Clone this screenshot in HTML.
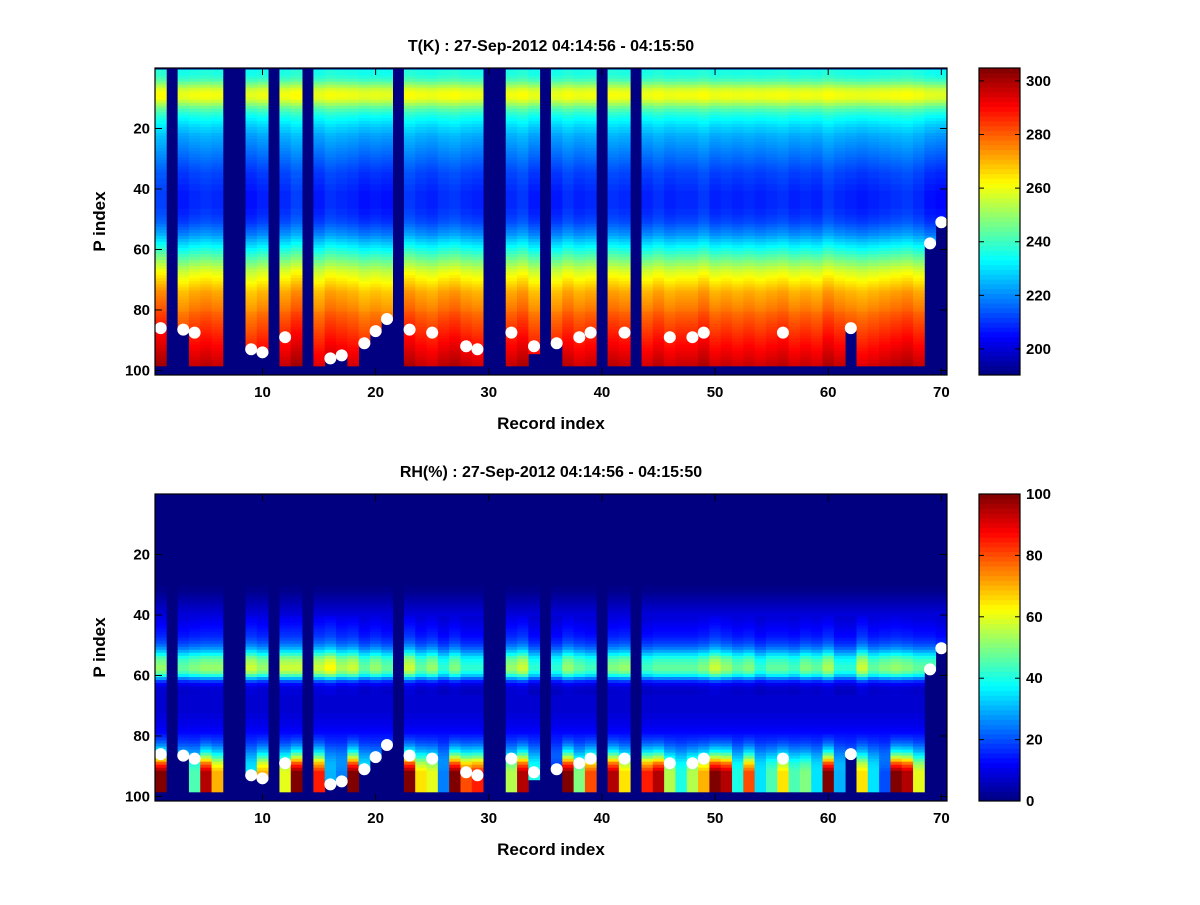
<!DOCTYPE html>
<html><head><meta charset="utf-8">
<style>
html,body{margin:0;padding:0;background:#fff;}
svg text{font-family:"Liberation Sans",sans-serif;font-weight:bold;fill:#000;}
</style></head>
<body>
<svg id="fig" width="1200" height="900" viewBox="0 0 1200 900" xmlns="http://www.w3.org/2000/svg">
<rect width="1200" height="900" fill="#fff"/>
<g id="top"></g>
<g id="bot"></g>
</svg>
<script>
// ---- data ----
const records = 70;
const missingCols = [2,7,8,11,14,22,30,31,35,40,43];
const lastLevel = {3:86,9:93,10:94,16:96,17:95,19:91,20:87,21:83,34:94,36:91,62:86,69:58,70:51};
const dotRecords = [1,3,4,9,10,12,16,17,19,20,21,23,25,28,29,32,34,36,38,39,42,46,48,49,56,62,69,70];
const dotLevels  = [86,86.5,87.5,93,94,89,96,95,91,87,83,86.5,87.5,92,93,87.5,92,91,89,87.5,87.5,89,89,87.5,87.5,86,58,51];
const tProfile = [236,236,238,241,246,251,256,259,260,259,255,250,245,241,238,235,233,231,229,227,
226,224,223,222,221,220,219,218,217,216,215,214,213,212,211,211,210,210,209,209,
208,208,208,208,208,208,209,209,210,211,212,214,216,218,220,223,226,229,232,235,
238,241,244,247,250,253,256,258,260,262,264,266,268,270,271,272,273,274,275,276,
278,279,280,281,282,283,284,285,286,287,288,289,290,291,292,293,294,295];
const tShift = [4,0,-1,1,2,1,0,0,-2,0,0,1,4,0,-1,2,1,0,-2,-1,-2,0,3,1,0,2,3,1,0,0,0,1,3,-1,0,-1,2,0,1,0,2,1,0,0,2,0,1,1,3,0,1,0,1,0,1,2,0,1,0,3,1,0,-1,0,1,2,3,1,-2,-3];
const rhProfile = [0,0,0,0,0,0,0,0,0,0,0,0,0,0,0,0,0,0,0,0,0,0,0,0,0,0,0,0,0,0,1,1,2,3,4,5,
6,7,8,9,10,11,12,13,14,15,16,18,20,23,27,32,38,44,48,50,52,52,48,40,28,18,12,9,
8,8,8,8,8,8,8,8,9,9,10,10,11,12,13,14,15,16,18,20,22,24,26,28,30,32,34,36,38,40,42,44,46,48];
const rhMid = [50,0,45,48,50,50,0,0,55,50,0,55,55,0,55,60,52,55,45,50,45,0,55,45,50,40,48,40,40,0,0,50,55,40,0,40,50,45,42,0,48,50,0,42,45,45,45,45,48,55,50,45,48,40,45,45,42,48,45,52,40,40,55,45,48,50,48,45,45,40];
const rhSurf = [100,0,50,45,95,70,0,0,35,70,0,60,100,0,85,30,25,100,35,30,30,0,100,65,60,25,100,80,85,0,0,55,95,40,0,15,100,50,80,0,95,65,0,85,95,55,40,55,70,100,95,40,80,35,45,65,45,50,35,100,30,20,65,35,20,100,95,60,40,40];
const rhRamp = [0.02,0.04,0.07,0.1,0.15,0.2,0.3,0.4,0.55,0.7,0.8,0.9,1,1,1,1,1,1,1];
const tTicks = [200,220,240,260,280,300];
const rhTicks = [0,20,40,60,80,100];
const xTicks = [10,20,30,40,50,60,70];
const yTicks = [20,40,60,80,100];

// ---- helpers ----
const NS = "http://www.w3.org/2000/svg";
function jet(t){
  t = Math.max(0, Math.min(1, t));
  const c = v => Math.round(255*Math.max(0, Math.min(1, v)));
  return `rgb(${c(1.5-Math.abs(4*t-3))},${c(1.5-Math.abs(4*t-2))},${c(1.5-Math.abs(4*t-1))})`;
}
function mk(parent, tag, attrs){
  const e = document.createElementNS(NS, tag);
  for (const k in attrs) e.setAttribute(k, attrs[k]);
  parent.appendChild(e); return e;
}
const X0 = 155, X1 = 947;
const xScale = v => X0 + (v - 0.5) * (X1 - X0) / records;
const yLevelMax = 101.5;

function panel(g, top, vmin, vmax, valueFn, cticks, title, prefix){
  const bottom = top + 307;
  const yScale = l => top + l * (bottom - top) / yLevelMax;
  const bg = mk(g, 'rect', {x:X0, y:top, width:X1-X0, height:bottom-top, fill:'rgb(0,0,128)'});
  
  
  const cw = (X1-X0)/records;
  for (let c = 1; c <= records; c++){
    if (missingCols.includes(c)) continue;
    const last = lastLevel[c] || 98;
    for (let l = 1; l <= last; l++){
      const v = valueFn(c, l);
      const r = mk(g, 'rect', {x:(xScale(c)-cw/2).toFixed(2), y:yScale(l-0.5).toFixed(2), width:(cw+0.4).toFixed(2), height:((bottom-top)/yLevelMax+0.4).toFixed(2), fill:jet((v-vmin)/(vmax-vmin))});
      
      
    }
  }
  for (let i = 0; i < dotRecords.length; i++){
    const d = mk(g, 'circle', {cx:xScale(dotRecords[i]), cy:yScale(dotLevels[i]), r:6, fill:'#fff'});
    
    
  }
  const fr = mk(g, 'rect', {x:X0, y:top, width:X1-X0, height:bottom-top, fill:'none', stroke:'#000', 'stroke-width':1.2});
  
  
  for (const t of xTicks){
    const x = xScale(t);
    mk(g, 'line', {x1:x, x2:x, y1:bottom, y2:bottom-7, stroke:'#000'});
    mk(g, 'line', {x1:x, x2:x, y1:top, y2:top+7, stroke:'#000'});
    const tx = mk(g, 'text', {x:x, y:bottom+22, 'text-anchor':'middle', 'font-size':15});
    tx.textContent = t;
    
    
  }
  for (const t of yTicks){
    const y = yScale(t);
    mk(g, 'line', {x1:X0, x2:X0+7, y1:y, y2:y, stroke:'#000'});
    mk(g, 'line', {x1:X1, x2:X1-7, y1:y, y2:y, stroke:'#000'});
    const ty = mk(g, 'text', {x:X0-5, y:y+5, 'text-anchor':'end', 'font-size':15});
    ty.textContent = t;
    
    
  }
  const xl = mk(g, 'text', {x:(X0+X1)/2, y:bottom+54, 'text-anchor':'middle', 'font-size':17});
  xl.textContent = 'Record index';
  
  
  const yl = mk(g, 'text', {x:0, y:0, 'text-anchor':'middle', 'font-size':17, transform:`translate(105,${(top+bottom)/2}) rotate(-90)`});
  yl.textContent = 'P index';
  
  
  const ti = mk(g, 'text', {x:551, y:top-17, 'text-anchor':'middle', 'font-size':16});
  ti.textContent = title;
  
  
  const CX0 = 979, CX1 = 1020;
  const n = 64;
  for (let i = 0; i < n; i++){
    const h = (bottom-top)/n;
    const s = mk(g, 'rect', {x:CX0, y:(bottom-(i+1)*h).toFixed(2), width:CX1-CX0, height:(h+0.5).toFixed(2), fill:jet((i+0.5)/n)});
    
    
  }
  const cf = mk(g, 'rect', {x:CX0, y:top, width:CX1-CX0, height:bottom-top, fill:'none', stroke:'#000', 'stroke-width':1.2});
  
  
  for (const t of cticks){
    const y = bottom - (t-vmin)/(vmax-vmin)*(bottom-top);
    mk(g, 'line', {x1:CX0, x2:CX0+5, y1:y, y2:y, stroke:'#000'});
    mk(g, 'line', {x1:CX1, x2:CX1-5, y1:y, y2:y, stroke:'#000'});
    const ct = mk(g, 'text', {x:CX1+6, y:y+5, 'font-size':15});
    ct.textContent = t;
    
    
  }
}

panel(document.getElementById('top'), 68, 190.3, 304.8,
  (c,l) => tProfile[l-1] + tShift[c-1] * (0.5 + l/98),
  tTicks, 'T(K) : 27-Sep-2012 04:14:56 - 04:15:50', 'temperature');

panel(document.getElementById('bot'), 494, 0, 100,
  (c,l) => {
    let v = rhProfile[l-1];
    if (l >= 41 && l <= 66) v = v * rhMid[c-1] / 50;
    if (l >= 80) { const w = rhRamp[l-80]; v = v + (rhSurf[c-1] - v) * w; }
    return v;
  },
  rhTicks, 'RH(%) : 27-Sep-2012 04:14:56 - 04:15:50', 'humidity');
</script>
</body></html>
